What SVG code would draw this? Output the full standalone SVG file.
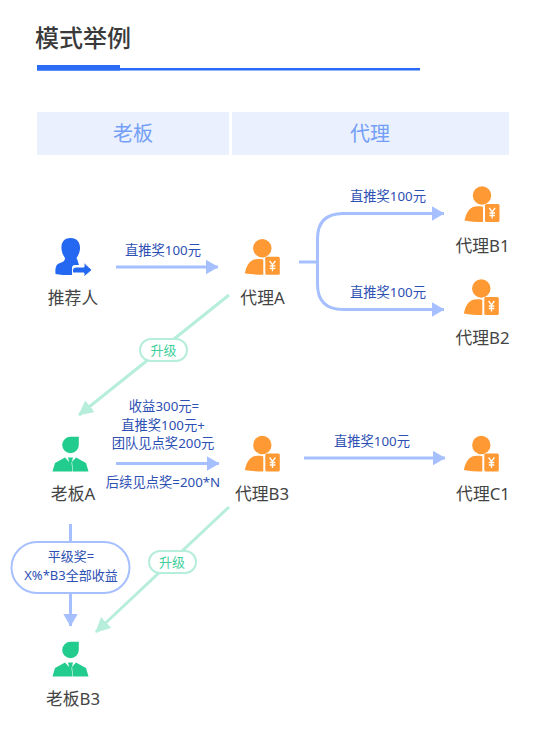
<svg xmlns="http://www.w3.org/2000/svg" width="539" height="739" viewBox="0 0 539 739">
<style>
text{font-family:"Noto Sans","Noto Sans CJK SC",sans-serif;text-anchor:middle}
.t{font-size:16.800px;fill:#444}
.s{font-size:13.300px;fill:#2d50b4}
.g{font-size:13px;fill:#3fcf9d}
.h{font-size:20px;fill:#739ff6}
.bl{fill:none;stroke:#a6c0ff;stroke-width:3}
.gl{fill:none;stroke:#b6eedb;stroke-width:3}
</style>
<defs>
<marker id="ab" markerUnits="userSpaceOnUse" markerWidth="14" markerHeight="15" refX="12.500" refY="7.500" orient="auto"><path d="M0 0L13 7.500L0 15Z" fill="#a6c0ff"/></marker>
<marker id="ag" markerUnits="userSpaceOnUse" markerWidth="16" markerHeight="16" refX="14" refY="8" orient="auto"><path d="M0 0.500L15 8L0 15.500Z" fill="#b6eedb"/></marker>
<g id="orange">
<circle cx="0" cy="0" r="9.200" fill="#ff9933"/>
<path d="M-17.500 25C-16 18-13 12-7 11C-3 10.500 0 10.500 1 11.500V26.500C-5 26.500-12 26-17.500 25Z" fill="#ff9933"/>
<rect x="3" y="8.500" width="14.500" height="18" rx="1.500" fill="#ff9933"/>
<path d="M7.300 12.500L10.200 16.500L13.100 12.500M10.200 16.500V23M7.500 17.500H13M7.500 20H13" fill="none" stroke="#fff" stroke-width="1.300"/>
</g>
<g id="green">
<path d="M-8.300 0A8.300 8.300 0 0 0 8.300 0V-8.300H0A8.300 8.300 0 0 0-8.300 0Z" transform="translate(0,1)" fill="#22cc8f"/>
<path d="M-18 27.500L-15.500 19L-5.500 13.500L-1 18.500L-2 27.500ZM18 27.500L15.500 19L5.500 13.500L1 18.500L2 27.500ZM-2.500 13.500H2.500L1.500 17.500L2.500 27.500H-2.500L-1.500 17.500Z" fill="#22cc8f"/>
</g>
</defs>
<rect width="539" height="739" fill="#fff"/>

<g id="title">
<text x="83" y="47" style="font-size:24px;fill:#3a3a3a;font-weight:500">模式举例</text>
<rect x="37" y="68" width="383" height="2.500" fill="#2b6cf6"/>
<rect x="37" y="65" width="83" height="5.500" fill="#2b6cf6"/>
</g>
<g id="header-boss"><rect x="37" y="112" width="192" height="43" fill="#eaf0fe"/><text class="h" x="133" y="141">老板</text></g>
<g id="header-agent"><rect x="232" y="112" width="277" height="43" fill="#eaf0fe"/><text class="h" x="370" y="141">代理</text></g>

<g id="connectors">
<path class="bl" d="M116 267H218" marker-end="url(#ab)"/>
<path class="bl" d="M299 262H317.500"/>
<path class="bl" d="M317.500 262V284Q317.500 309.500 343 309.500H444" marker-end="url(#ab)"/>
<path class="bl" d="M317.500 262V239Q317.500 213.500 343 213.500H444" marker-end="url(#ab)"/>
<path class="bl" d="M116 463.500H219" marker-end="url(#ab)"/>
<path class="bl" d="M304 458H445" marker-end="url(#ab)"/>
<path class="bl" d="M70.500 524V626" marker-end="url(#ab)"/>
<path class="gl" d="M229 295L79 415" marker-end="url(#ag)"/>
<path class="gl" d="M229 507L96 632" marker-end="url(#ag)"/>
</g>

<g id="edge-labels">
<text class="s" x="163" y="255">直推奖100元</text>
<text class="s" x="388" y="201">直推奖100元</text>
<text class="s" x="388" y="297">直推奖100元</text>
<text class="s" x="372" y="446">直推奖100元</text>
<text class="s" x="164" y="411">收益300元=</text>
<text class="s" x="163" y="430">直推奖100元+</text>
<text class="s" x="163" y="448">团队见点奖200元</text>
<text class="s" x="163" y="487">后续见点奖=200*N</text>
</g>

<g id="pill-upgrade-1"><rect x="140" y="339" width="47" height="22" rx="11" fill="#fff" stroke="#b6eedb" stroke-width="2"/><text class="g" x="163.500" y="355">升级</text></g>
<g id="pill-upgrade-2"><rect x="149" y="551" width="47" height="22" rx="11" fill="#fff" stroke="#b6eedb" stroke-width="2"/><text class="g" x="172" y="567">升级</text></g>
<g id="pill-peer"><rect x="11.500" y="542" width="118" height="51" rx="25.500" fill="#fff" stroke="#a6c0ff" stroke-width="2"/>
<text class="s" x="71" y="561" style="font-size:13px">平级奖=</text><text class="s" x="71" y="580" style="font-size:13px">X%*B3全部收益</text></g>

<g id="node-referrer">
<path d="M70.500 238C63 238 61 244 61.500 249C62 254 64 256 65 258C65 261 63 262 60 263C56 264 55 268 55.500 274C60 275 65 275 72 275V268C72 266 73 265 75 265H79C78 262 78 261 76.500 258C78 256 79.500 253 80 249C80.500 244 78 238 70.500 238Z" fill="#2468f2"/>
<path d="M76 267H84V262.500L92 270L84 277V273H72.500V270Q72.500 267 76 267Z" fill="#2468f2" stroke="#fff" stroke-width="1"/>
<text class="t" x="73" y="304">推荐人</text></g>
<g id="node-agent-a"><use href="#orange" x="262.300" y="248.300"/><text class="t" x="262.500" y="304">代理A</text></g>
<g id="node-agent-b1"><use href="#orange" x="482" y="195.500"/><text class="t" x="482.500" y="252">代理B1</text></g>
<g id="node-agent-b2"><use href="#orange" x="481.300" y="288.500"/><text class="t" x="482.500" y="344">代理B2</text></g>
<g id="node-boss-a"><use href="#green" x="70.500" y="444"/><text class="t" x="73" y="500">老板A</text></g>
<g id="node-agent-b3"><use href="#orange" x="262.300" y="445"/><text class="t" x="262" y="500">代理B3</text></g>
<g id="node-agent-c1"><use href="#orange" x="481.300" y="445"/><text class="t" x="483" y="500">代理C1</text></g>
<g id="node-boss-b3"><use href="#green" x="70.500" y="649"/><text class="t" x="73" y="705">老板B3</text></g>
</svg>
